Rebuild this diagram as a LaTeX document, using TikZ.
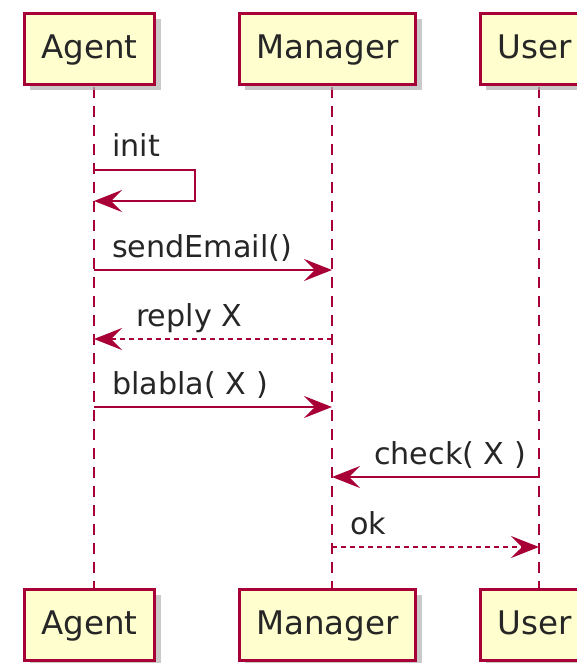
\documentclass[tikz,border=0pt]{standalone}
\usepackage{fontspec}
\setmainfont{DejaVu Sans}
\usetikzlibrary{arrows.meta}
\usetikzlibrary{shadows}
\definecolor{umlred}{HTML}{A80036}
\definecolor{umlfill}{HTML}{FEFECE}

\begin{document}
\begin{tikzpicture}[x=1pt, y=-1pt,
  actor/.style={draw=umlred, fill=umlfill, line width=3pt, minimum height=71pt,
    inner xsep=17pt, text height=25pt, text depth=6pt, text=black!85,
    font=\fontsize{32.5}{39}\selectfont,
    drop shadow={shadow xshift=6pt, shadow yshift=-6pt, fill=black!30, opacity=.7}},
  life/.style={umlred, line width=2.2pt, dash pattern=on 11pt off 8pt},
  msg/.style={umlred, line width=2.2pt, -{Stealth[length=28pt, width=22pt, inset=11pt]}},
  reply/.style={msg, dash pattern=on 5pt off 4pt},
  lbl/.style={anchor=base west, inner sep=0pt, text=black!85, font=\fontsize{30.2}{36}\selectfont}]
\useasboundingbox (0,0) rectangle (577,663);
\clip (0,0) rectangle (577,663);
%\draw[gray] (0,0) rectangle (577,663);
\coordinate (agentTopC) at (89.5,49);
\coordinate (managerTopC) at (327.5,49);
\coordinate (userTopC) at (534.5,49);
\draw[life] ([xshift=4.5pt]agentTopC) -- ([xshift=4.5pt]agentTopC |- 0,589);
\draw[life] ([xshift=4.5pt]managerTopC) -- ([xshift=4.5pt]managerTopC |- 0,589);
\draw[life] ([xshift=4.5pt]userTopC) -- ([xshift=4.5pt]userTopC |- 0,589);
\node[actor] (agentTop) at (agentTopC) {Agent};
\node[actor] (managerTop) at (managerTopC) {Manager};
\node[actor] (userTop) at (userTopC) {User};
\node[actor] (agentBot) at (89.5,624.5) {Agent};
\node[actor] (managerBot) at (327.5,624.5) {Manager};
\node[actor] (userBot) at (534.5,624.5) {User};
% message ends on the lifelines
\coordinate (a1) at (94,170);
\coordinate (a2) at (94,201);
\coordinate (a3) at (94,270);
\coordinate (m3) at (332,270);
\coordinate (m4) at (332,339);
\coordinate (a4) at (94,339);
\coordinate (a5) at (94,407);
\coordinate (m5) at (332,407);
\coordinate (u6) at (539,477);
\coordinate (m6) at (332,477);
\coordinate (m7) at (332,547);
\coordinate (u7) at (539,547);
\draw[msg] (a1) -- ++(101,0) -- ++(0,31) -- (a2);
\draw[msg] (a3) -- (m3);
\draw[reply] (m4) -- (a4);
\draw[msg] (a5) -- (m5);
\draw[msg] (u6) -- (m6);
\draw[reply] (m7) -- (u7);
\node[lbl] (initLbl) at (112,157) {init};
\node[lbl] (sendLbl) at (112,257) {sendEmail()};
\node[lbl] (replyLbl) at (136,326) {reply X};
\node[lbl] (blablaLbl) at (112,394) {blabla( X )};
\node[lbl] (checkLbl) at (374,464) {check( X )};
\node[lbl] (okLbl) at (350,534) {ok};
\end{tikzpicture}
\end{document}
